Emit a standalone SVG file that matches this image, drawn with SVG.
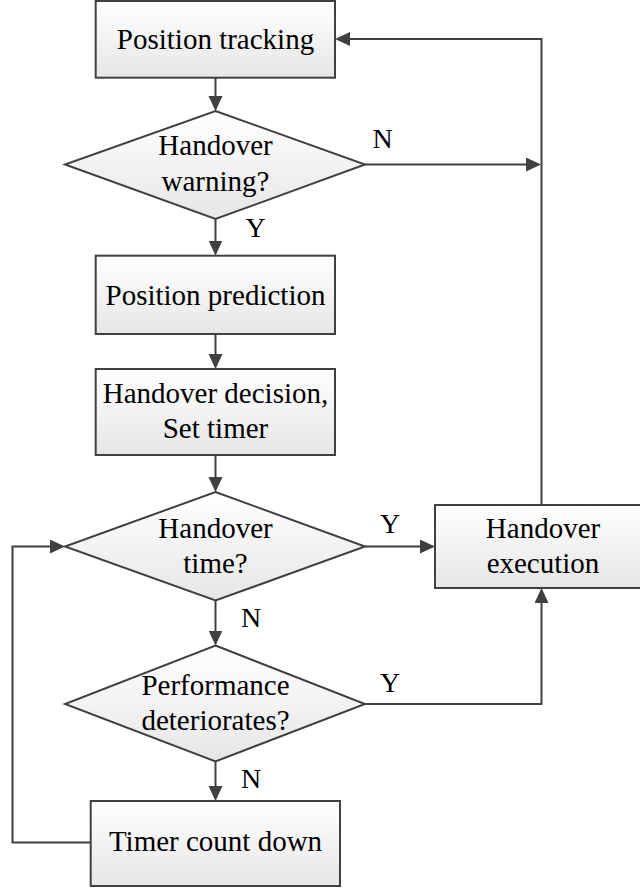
<svg xmlns="http://www.w3.org/2000/svg" width="640" height="891" viewBox="0 0 640 891">
  <style>
    .shape { stroke: #404040; stroke-width: 2; fill: url(#fillGrad); }
    .conn { stroke: #404040; stroke-width: 2; fill: none; }
    .arrow { marker-end: url(#head); }
    text { font-family: "Liberation Serif", "Times New Roman", serif; font-size: 29px; fill: #000; text-anchor: middle; }
    .lbl { font-size: 28px; }
  </style>
  <defs>
    <linearGradient id="fillGrad" x1="0" y1="0" x2="0" y2="1">
      <stop offset="0" stop-color="#ffffff"/>
      <stop offset="1" stop-color="#e6e6e6"/>
    </linearGradient>
    <marker id="head" markerUnits="userSpaceOnUse" markerWidth="16" markerHeight="16" refX="13" refY="7" orient="auto">
      <path d="M0,0 L15,7 L0,14 z" fill="#404040"/>
    </marker>
  </defs>

  <rect width="640" height="891" fill="#ffffff"/>

  <!-- connectors -->
  <g id="connectors">
    <line class="conn arrow" x1="215.5" y1="78" x2="215.5" y2="109"/>
    <path class="conn arrow" d="M365,164.5 H539"/>
    <path class="conn arrow" d="M541.5,505 V39 H337"/>
    <line class="conn arrow" x1="215.5" y1="219" x2="215.5" y2="253.5"/>
    <line class="conn arrow" x1="215.5" y1="334" x2="215.5" y2="367"/>
    <line class="conn arrow" x1="215.5" y1="455" x2="215.5" y2="490"/>
    <path class="conn arrow" d="M365,546.5 H433"/>
    <line class="conn arrow" x1="215.5" y1="600.5" x2="215.5" y2="643.5"/>
    <path class="conn arrow" d="M365,704 H541.5 V590"/>
    <line class="conn arrow" x1="215.5" y1="761.5" x2="215.5" y2="799"/>
    <path class="conn arrow" d="M90.5,842.5 H12.5 V546.5 H63"/>
  </g>

  <!-- branch labels -->
  <g id="labels">
    <text class="lbl" x="382.5" y="148">N</text>
    <text class="lbl" x="255.5" y="237">Y</text>
    <text class="lbl" x="390" y="533">Y</text>
    <text class="lbl" x="251" y="627">N</text>
    <text class="lbl" x="390" y="692">Y</text>
    <text class="lbl" x="251" y="788">N</text>
  </g>

  <g id="position-tracking">
    <rect class="shape" x="95.7" y="1" width="239.3" height="76.7"/>
    <text x="215.5" y="48.5">Position tracking</text>
  </g>

  <g id="handover-warning">
    <polygon class="shape" points="215.5,111 365,164.5 215.5,219 65,164.5"/>
    <text x="215.5" y="155">Handover</text>
    <text x="215.5" y="190.5">warning?</text>
  </g>

  <g id="position-prediction">
    <rect class="shape" x="95.7" y="255.7" width="239.3" height="78.3"/>
    <text x="215.5" y="304.5">Position prediction</text>
  </g>

  <g id="handover-decision">
    <rect class="shape" x="95.7" y="369" width="239.3" height="86"/>
    <text x="215.5" y="403">Handover decision,</text>
    <text x="215.5" y="438">Set timer</text>
  </g>

  <g id="handover-time">
    <polygon class="shape" points="215.5,492 365,546.5 215.5,600.5 65,546.5"/>
    <text x="215.5" y="537.5">Handover</text>
    <text x="215.5" y="573">time?</text>
  </g>

  <g id="handover-execution">
    <rect class="shape" x="435" y="505" width="216" height="83"/>
    <text x="543" y="538">Handover</text>
    <text x="543" y="572.5">execution</text>
  </g>

  <g id="performance-deteriorates">
    <polygon class="shape" points="215.5,645.5 365,704 215.5,761.5 65,704"/>
    <text x="215.5" y="695">Performance</text>
    <text x="215.5" y="730">deteriorates?</text>
  </g>

  <g id="timer-count-down">
    <rect class="shape" x="90.7" y="801" width="249.3" height="85"/>
    <text x="215.5" y="851">Timer count down</text>
  </g>
</svg>
